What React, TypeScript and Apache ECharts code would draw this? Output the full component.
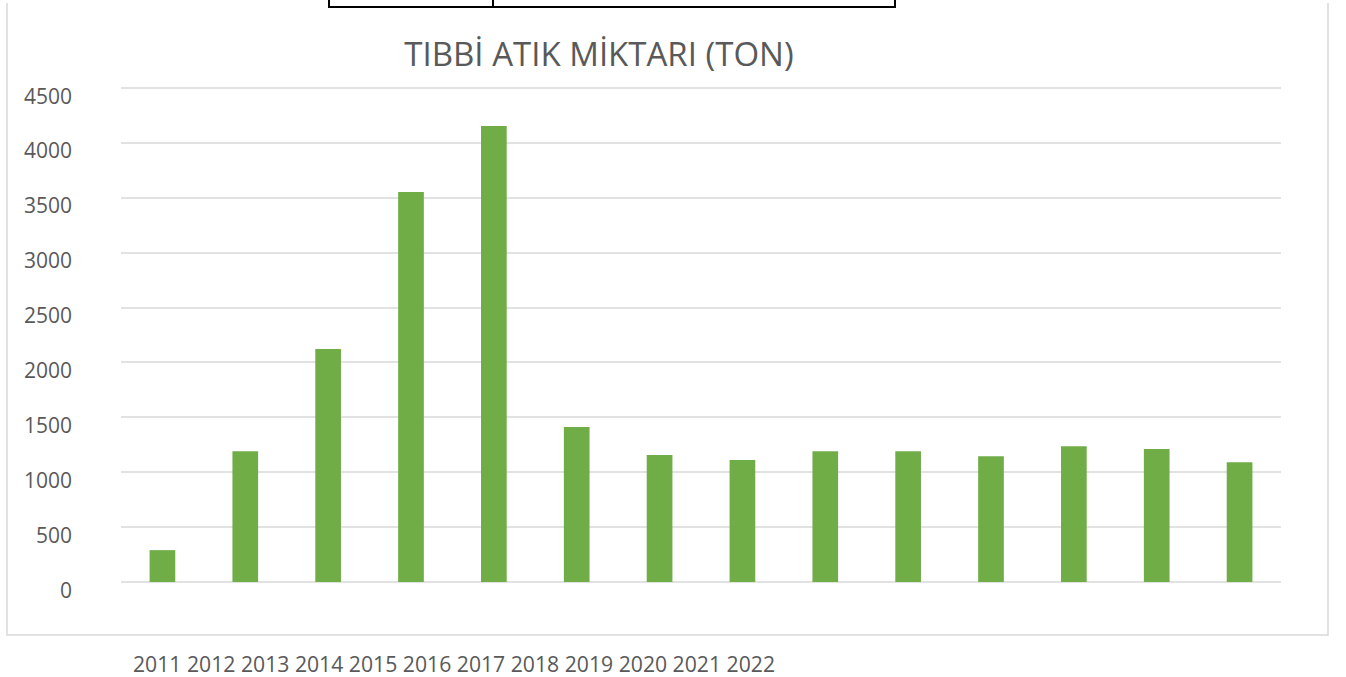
import React, { useEffect, useRef } from "react";
import * as echarts from "echarts";

const titleText = "TIBBİ ATIK MİKTARI (TON)";
const yearLabels = ["2011", "2012", "2013", "2014", "2015", "2016", "2017", "2018", "2019", "2020", "2021", "2022"];
const barValues = [290, 1190, 2120, 3550, 4150, 1410, 1155, 1110, 1190, 1190, 1145, 1235, 1210, 1090];
const barKeys = barValues.map((_, i) => "b" + (i + 1));
const yTicks = [0, 500, 1000, 1500, 2000, 2500, 3000, 3500, 4000, 4500];

export default function App() {
  const ref = useRef<HTMLDivElement>(null);
  useEffect(() => {
    if (!ref.current) return;
    const chart = echarts.init(ref.current, null, { renderer: "svg" });
    const gray = "#595959";
    chart.setOption({
      animation: false,
      backgroundColor: "#ffffff",
      textStyle: { fontFamily: "Open Sans" },
      grid: { left: 121, right: 65, top: 87.5, bottom: 95, containLabel: false },
      xAxis: {
        type: "category",
        data: barKeys,
        axisLine: { show: false },
        axisTick: { show: false },
        axisLabel: { show: false },
      },
      yAxis: {
        type: "value",
        min: yTicks[0],
        max: yTicks[yTicks.length - 1],
        interval: 500,
        axisLine: { show: false },
        axisTick: { show: false },
        splitLine: { lineStyle: { color: "#d9d9d9", width: 1.5 } },
        axisLabel: {
          color: gray,
          fontSize: 21,
          fontFamily: "Open Sans",
          margin: 49,
          verticalAlign: "top",
          lineHeight: 16,
          formatter: (v: number) => String(v),
        },
      },
      series: [
        {
          type: "bar",
          data: barValues,
          barWidth: "31%",
          itemStyle: { color: "#70ad47" },
        },
      ],
      graphic: [
        {
          type: "polyline",
          shape: { points: [[7, 3], [7, 635], [1328, 635], [1328, 3]] },
          style: { stroke: "#d9d9d9", lineWidth: 1.5, fill: null },
          silent: true,
        },
        {
          type: "polyline",
          shape: { points: [[329, -2], [329, 7], [895, 7], [895, -2]] },
          style: { stroke: "#000000", lineWidth: 2, fill: null },
          silent: true,
        },
        {
          type: "line",
          shape: { x1: 493, y1: -2, x2: 493, y2: 7 },
          style: { stroke: "#000000", lineWidth: 2 },
          silent: true,
        },
        {
          type: "text",
          x: 599,
          y: 53,
          style: {
            text: titleText,
            fill: gray,
            fontSize: 33,
            fontFamily: "Open Sans",
            align: "center",
            verticalAlign: "middle",
          },
        },
        {
          type: "text",
          x: 133,
          y: 663,
          style: {
            text: yearLabels.join(" "),
            fill: gray,
            fontSize: 21.2,
            fontFamily: "Open Sans",
            align: "left",
            verticalAlign: "middle",
          },
        },
      ],
    });
    return () => chart.dispose();
  }, []);
  return (
    <div
      ref={ref}
      style={{ position: "absolute", left: 0, top: 0, width: 1346, height: 677 }}
    />
  );
}
